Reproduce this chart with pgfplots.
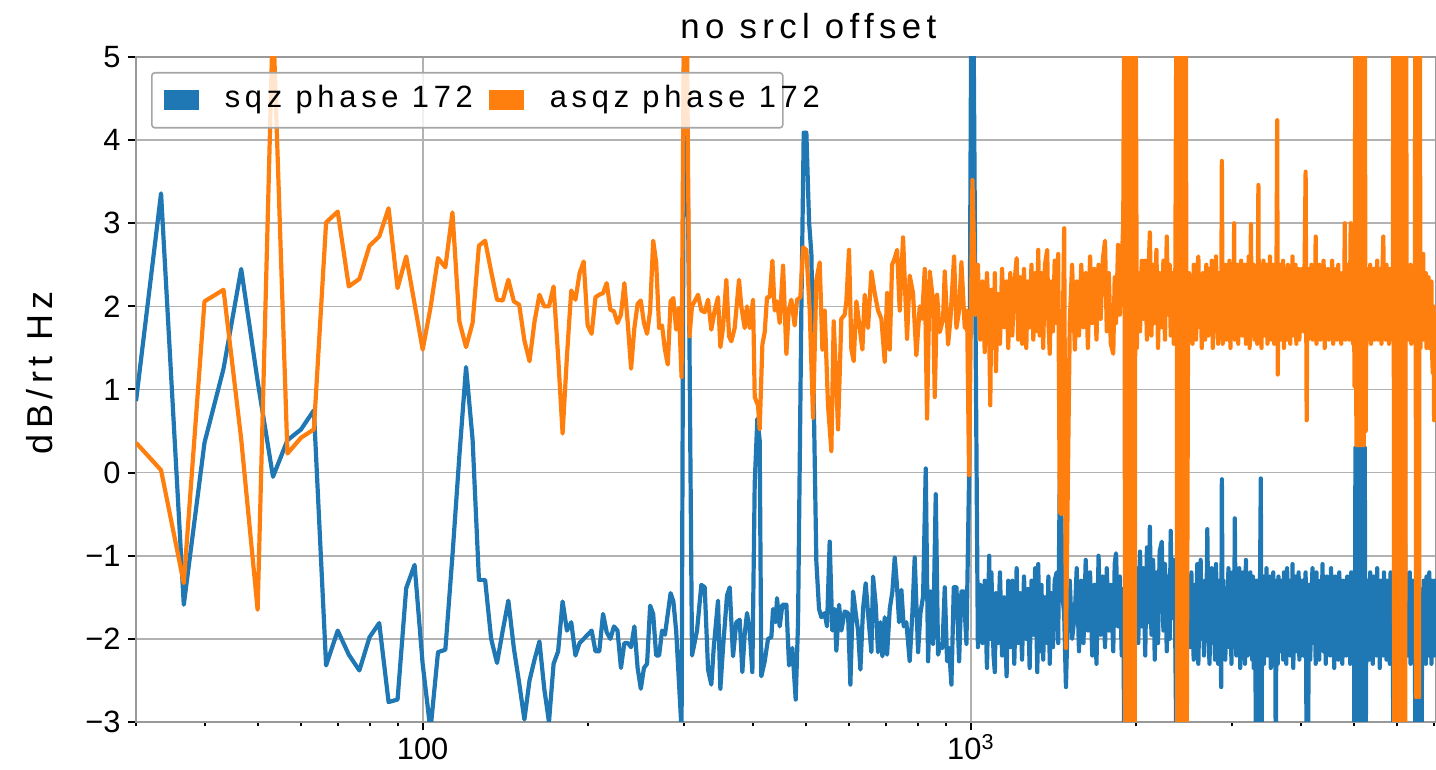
\documentclass[border=0pt]{standalone}
\usepackage{fontspec}
\setmainfont{Liberation Sans}
\newfontfamily\trk{Liberation Sans}[LetterSpace=15.5]
\usepackage{pgfplots}
\usepackage{pgfplotstable}
\pgfplotsset{compat=1.18}
\definecolor{sqzblue}{HTML}{1F77B4}
\definecolor{asqzorange}{HTML}{FF7F0E}

\pgfplotstableread{
f v
30.00 0.86
33.33 3.36
36.67 -1.59
40.00 0.36
43.33 1.25
46.67 2.45
50.00 1.1
53.33 -0.05
56.67 0.39
60.00 0.52
63.33 0.75
66.67 -2.32
70.00 -1.90
73.33 -2.19
76.67 -2.38
80.00 -1.98
83.33 -1.81
86.67 -2.76
90.00 -2.73
93.33 -1.39
96.67 -1.11
100.00 -2.3
103.33 -3.1
106.67 -2.16
110.00 -2.13
113.33 -1.0
116.67 0.2
120.00 1.27
123.33 0.4
126.67 -1.29
130.00 -1.29
133.33 -2.0
136.67 -2.29
140.00 -1.9
143.33 -1.54
146.67 -2.11
150.00 -2.53
153.33 -2.97
156.67 -2.5
160.00 -2.25
163.33 -2.03
166.67 -2.6
170.00 -3.0
173.33 -2.3
176.67 -2.15
180.00 -1.55
183.33 -1.9
186.67 -1.8
190.00 -2.2
193.33 -2.05
196.67 -2.0
200.00 -1.95
203.33 -1.9
206.67 -2.15
210.00 -2.15
213.33 -1.7
216.67 -1.92
220.00 -2.0
223.33 -1.85
226.67 -1.9
230.00 -2.35
233.33 -2.05
236.67 -2.05
240.00 -2.1
243.33 -1.85
246.67 -2.35
250.00 -2.6
253.33 -2.35
256.67 -2.3
260.00 -1.6
263.33 -1.7
266.67 -2.2
270.00 -2.2
273.33 -1.9
276.67 -1.95
280.00 -1.7
283.33 -1.45
286.67 -1.55
290.00 -1.9
293.33 -2.5
296.67 -3.1
300.00 5.8
303.33 4.5
306.67 1.6
310.00 -2.2
316.6 -1.9
322.4 -1.35
327.0 -1.38
331.6 -2.37
336.2 -2.55
339.6 -2.11
345.8 -1.54
349.2 -2.6
353.1 -2.11
359.1 -1.48
363.2 -1.38
368.3 -2.21
373.5 -1.8
378.8 -1.77
383.0 -2.4
386.8 -1.95
390.6 -1.69
395.0 -1.9
399.5 -2.4
403.4 -0.13
407.9 0.65
411.9 0.39
414.8 -2.45
420.7 -2.27
426.6 -2.0
432.6 -1.98
435.7 -1.64
440.6 -1.8
443.0 -1.51
448.0 -1.85
453.1 -1.59
460.8 -1.59
466.0 -2.32
472.5 -2.11
479.2 -2.73
483.9 -1.8
490.7 1.95
495.6 4.09
501.1 4.09
506.8 3.02
511.8 2.63
516.8 0.91
522.6 -1.07
528.5 -1.64
533.7 -1.74
541.2 -1.69
546.5 -1.85
552.7 -0.83
558.9 -1.9
564.4 -1.64
568.4 -2.14
574.9 -1.59
580.5 -1.9
588.7 -1.67
597.0 -1.69
602.9 -2.55
609.7 -1.43
616.6 -1.69
622.6 -1.9
628.8 -2.37
635.9 -1.64
643.0 -1.33
649.3 -1.69
658.5 -2.16
663.1 -1.25
670.6 -1.59
677.2 -2.16
684.0 -1.8
689.7 -2.21
696.5 -1.74
703.4 -2.19
711.3 -1.64
719.3 -1.43
726.4 -1.02
733.6 -1.38
739.7 -1.8
747.0 -1.41
754.3 -1.85
762.8 -1.8
773.6 -2.27
782.3 -1.69
790.0 -1.02
801.2 -2.16
809.1 -1.69
818.2 -1.49
827.4 0.05
835.5 -2.27
843.8 -1.43
853.3 -2.06
862.9 -0.26
871.4 -2.19
880.0 -2.06
887.4 -2.11
896.2 -1.38
905.0 -2.27
912.6 -2.11
921.6 -2.55
930.8 -1.38
941.2 -1.38
951.8 -2.27
961.2 -1.43
970.9 -1.43
981.6 -2.06
992.6 -0.03
1002.4 6.0
1010 6.0
1020 1.7
1030 -2.1
1040 -1.35
1050 -2.05
1060 -1.3
1070 -2.35
1080 -1.0
1085 -2.0
1090 -1.2
1100 -2.2
1106 -2.4
1111 -1.45
1120 -2.05
1130 -1.2
1140 -2.2
1150 -1.5
1162 -2.45
1170 -1.3
1180 -2.1
1190 -1.3
1200 -2.3
1212 -1.15
1220 -2.05
1230 -1.45
1240 -2.25
1250 -1.25
1262 -2.0
1270 -1.4
1280 -2.35
1290 -1.3
1300 -1.95
1310 -1.15
1322 -2.4
1327 -1.1
1335 -2.15
1345 -1.35
1355 -2.25
1365 -1.5
1378 -2.05
1385 -1.25
1393 -2.3
1402 -1.45
1412 -2.1
1422 -1.3
1434 -1.2
1443 -2.05
1453 0.0
1462 -0.44
1470 -1.5
1480 -1.7
1491 -2.58
1501 -1.8
1515 -1.3
1530 -2.0
1548 -1.69
1560 -1.15
1575 -2.15
1590 -1.3
1605 -2.05
1620 -1.05
1635 -1.9
1650 -1.2
1665 -2.2
1680 -1.35
1695 -2.3
1710 -1.0
1725 -1.95
1740 -1.25
1757 -2.1
1770 -1.15
1785 -1.9
1800 -1.35
1819 -2.15
1830 -1.1
1840 -0.97
1856 -1.85
1870 -1.25
1885 -2.2
1897 -1.4
1905 -3.5
1912 -1.6
1920 -3.5
1928 -1.8
1936 -2.6
1944 -1.5
1952 6.0
1958 -3.5
1966 -1.2
1974 -2.0
1982 -1.4
1990 -1.9
1998 -1.6
2008 -1.15
2020 -2.05
2035 -0.95
2050 -1.85
2065 -1.15
2080 -2.2
2095 -0.9
2110 -1.8
2121 -0.65
2135 -1.95
2150 -1.05
2165 -2.25
2180 -1.2
2195 -2.05
2210 -0.95
2230 -0.83
2245 -1.9
2260 -1.1
2277 -2.15
2290 -1.25
2305 -2.0
2315 -0.7
2330 -1.75
2345 -1.05
2360 -2.05
2372 -3.5
2380 -0.4
2388 -3.5
2396 -2.0
2404 -3.5
2412 -1.0
2420 -3.5
2428 -0.4
2436 -2.4
2444 -1.5
2452 0.5
2460 -2.0
2468 -1.6
2476 -1.3
2490 -1.8
2500 -1.5
2512 -2.1
2525 -1.2
2538 -1.85
2550 -2.25
2562 -1.35
2575 -1.9
2588 -1.1
2600 -2.3
2612 -1.6
2625 -1.05
2638 -2.0
2650 -1.45
2662 -2.2
2675 -1.3
2688 -1.85
2700 -0.68
2712 -1.95
2725 -2.3
2738 -1.4
2750 -1.15
2762 -2.05
2775 -1.6
2788 -2.25
2800 -1.1
2812 -1.75
2825 -2.3
2838 -1.3
2850 -1.85
2862 -2.58
2870 -0.08
2880 -2.0
2890 -1.3
2900 -1.75
2912 -2.25
2925 -1.4
2938 -1.95
2950 -1.15
2962 -2.1
2975 -1.5
2988 -2.3
3000 -1.2
3012 -1.8
3022 -2.1
3030 -0.55
3040 -1.7
3050 -2.2
3062 -1.3
3075 -1.95
3088 -1.15
3100 -2.35
3112 -1.55
3125 -2.0
3138 -1.2
3150 -1.9
3162 -2.3
3175 -1.05
3188 -1.75
3200 -2.2
3212 -1.35
3225 -1.9
3235 -1.2
3243 -2.05
3252 -1.4
3260 -2.25
3270 -1.25
3280 -2.35
3290 -1.5
3300 -1.9
3315 -3.5
3322 -1.3
3330 -2.1
3338 -1.5
3346 -3.5
3353 -1.6
3360 -2.0
3370 -1.2
3380 -0.07
3390 -3.5
3400 -1.5
3410 -2.0
3418 -1.25
3425 -2.3
3438 -1.4
3450 -1.9
3462 -1.15
3475 -2.2
3488 -1.5
3500 -1.95
3512 -1.25
3525 -2.35
3538 -1.45
3550 -1.85
3562 -1.2
3575 -2.2
3588 -1.5
3600 -3.5
3610 -1.3
3621 -1.9
3630 -2.3
3640 -1.25
3650 -1.8
3662 -2.15
3675 -1.3
3688 -2.0
3700 -1.4
3712 -2.25
3725 -1.2
3738 -1.9
3750 -1.5
3762 -2.3
3775 -1.15
3788 -1.75
3800 -2.1
3812 -1.3
3825 -2.2
3838 -1.45
3850 -1.95
3862 -1.1
3875 -2.35
3888 -1.5
3900 -1.9
3912 -1.25
3925 -2.15
3938 -1.4
3950 -2.0
3962 -1.2
3975 -2.25
3988 -1.55
4000 -1.85
4020 -1.3
4040 -2.2
4060 -1.5
4080 -1.2
4098 -3.5
4110 -1.6
4120 -3.5
4140 -1.35
4160 -2.25
4180 -1.5
4200 -1.15
4220 -2.05
4240 -1.4
4256 -2.3
4270 -1.2
4280 -1.9
4300 -1.45
4320 -2.25
4340 -1.3
4360 -1.95
4380 -1.1
4400 -2.15
4420 -1.5
4440 -2.3
4460 -1.25
4480 -1.85
4500 -1.4
4520 -2.2
4540 -1.15
4560 -1.95
4580 -1.5
4600 -2.35
4620 -1.25
4640 -1.8
4660 -1.4
4680 -2.25
4700 -1.2
4720 -1.9
4740 -1.5
4760 -2.3
4780 -1.3
4800 -2.0
4820 -1.35
4840 -2.2
4860 -1.25
4880 -1.85
4900 -1.5
4920 -2.3
4940 -1.2
4960 -1.95
4980 -1.4
5000 -2.1
5010 -3.5
5030 0.3
5050 -3.5
5070 0.3
5090 -3.5
5110 0.3
5130 -3.5
5150 0.3
5170 -3.5
5190 0.3
5210 -3.5
5230 0.3
5250 -3.5
5270 -1.3
5290 -2.1
5310 -1.5
5330 -2.25
5350 -1.2
5370 -1.9
5390 -1.4
5410 -2.3
5430 -1.25
5450 -1.85
5470 -1.5
5490 -2.2
5510 -1.15
5530 -1.9
5550 -1.45
5570 -2.35
5590 -1.3
5610 -1.95
5630 -1.5
5650 -2.2
5670 -1.2
5690 -1.85
5710 -1.4
5730 -2.25
5750 -1.3
5770 -1.9
5790 -1.5
5810 -2.3
5830 -1.2
5850 -1.95
5870 -1.45
5885 -2.1
5900 -3.5
5920 -1.6
5940 -3.5
5960 -1.8
5980 -3.5
6000 -1.5
6020 -3.5
6040 -0.5
6060 -3.5
6080 -1.7
6100 -3.5
6120 -1.4
6140 6.0
6160 -3.5
6180 6.0
6200 -1.8
6220 -1.4
6240 -1.3
6260 -2.2
6280 -1.5
6300 -1.9
6320 -1.2
6340 -2.3
6360 -1.45
6380 -1.85
6400 -1.3
6420 -2.2
6440 -1.55
6455 -1.9
6470 -3.5
6490 -1.7
6510 -3.5
6530 -1.5
6550 -3.5
6570 -1.8
6590 -3.5
6620 -1.5
6640 -3.5
6660 -1.4
6680 -2.2
6700 -1.3
6720 -1.9
6740 -1.5
6760 -2.3
6780 -1.25
6800 -1.95
6820 -1.4
6840 -2.2
6860 -1.2
6880 -1.85
6900 -1.5
6920 -2.3
6940 -1.3
6960 -1.9
6980 -1.45
7000 -2.2
7020 -1.3
7040 -1.8
7056 -1.5
}\sqz

\pgfplotstableread{
f v
30.00 0.36
33.33 0.03
36.67 -1.33
40.00 2.06
43.33 2.2
46.67 0.4
50.00 -1.65
53.33 5.5
56.67 0.23
60.00 0.42
63.33 0.52
66.67 3.01
70.00 3.14
73.33 2.24
76.67 2.33
80.00 2.73
83.33 2.84
86.67 3.18
90.00 2.22
93.33 2.6
96.67 2.03
100.00 1.48
103.33 1.98
106.67 2.58
110.00 2.47
113.33 3.13
116.67 1.82
120.00 1.51
123.33 1.8
126.67 2.73
130.00 2.79
133.33 2.42
136.67 2.08
140.00 2.07
143.33 2.32
146.67 2.06
150.00 2.02
153.33 1.59
156.67 1.34
160.00 1.82
163.33 2.14
166.67 2.0
170.00 2.0
173.33 2.24
176.67 1.4
180.00 0.47
183.33 1.4
186.67 2.19
190.00 2.08
193.33 2.4
196.67 2.54
200.00 1.77
203.33 1.67
206.67 2.11
210.00 2.14
213.33 2.16
216.67 2.28
220.00 1.96
223.33 1.94
226.67 1.8
230.00 1.9
233.33 2.28
236.67 1.8
240.00 1.25
243.33 1.74
246.67 2.03
250.00 2.07
253.33 1.8
256.67 1.67
260.00 1.95
263.33 2.79
266.67 2.53
270.00 1.74
273.33 1.77
276.67 1.48
280.00 1.3
283.33 2.06
286.67 2.1
290.00 1.72
293.33 1.98
296.67 1.15
300.00 6.0
303.33 5.5
306.67 1.64
310.00 2.0
318.0 2.14
322.4 1.95
327.0 1.93
331.6 2.08
336.2 1.72
341.0 1.95
345.8 2.11
349.2 1.51
353.1 1.74
358.1 2.32
362.2 1.64
365.7 1.58
370.9 1.74
377.7 2.32
381.4 2.0
386.8 1.74
390.6 2.0
395.0 1.74
400.6 2.08
403.4 0.91
409.0 0.81
411.9 0.52
416.6 1.54
420.7 1.69
424.8 2.11
429.6 2.11
434.5 2.55
438.7 1.95
443.0 2.06
448.0 1.8
454.4 2.49
460.8 1.43
465.3 1.95
470.5 2.08
477.1 1.77
481.9 2.08
488.7 2.11
494.2 2.71
501.1 2.68
508.2 1.95
515.4 0.66
522.6 2.32
530.0 2.53
536.0 1.48
541.2 1.95
548.8 0.81
556.6 0.26
562.1 1.82
568.4 1.07
572.4 0.52
580.5 1.85
588.7 1.9
592.8 2.06
599.5 2.68
605.4 1.48
611.4 1.34
618.3 2.06
627.0 1.74
634.1 1.48
640.3 2.14
649.3 1.74
658.5 2.42
667.8 2.16
677.2 1.95
686.8 1.85
696.5 1.33
703.4 2.16
711.3 1.48
718.3 2.5
726.4 2.58
733.6 2.68
741.8 1.95
752.2 2.83
765.0 1.61
773.6 2.37
784.5 2.16
795.6 1.41
806.8 2.0
814.7 1.85
823.9 2.45
832.0 0.65
841.4 2.42
853.3 2.06
859.3 0.91
867.7 2.14
877.5 1.69
889.9 1.85
896.2 2.42
908.8 1.54
917.8 1.85
932.0 2.6
941.2 1.74
951.8 1.95
961.2 2.53
974.7 1.74
984.3 1.95
992.6 -0.03
1006.7 3.52
1020 1.9
1030 2.5
1040 1.6
1050 2.3
1060 1.45
1070 2.4
1080 1.7
1085 0.81
1090 2.2
1100 1.5
1106 2.4
1111 1.22
1120 2.15
1130 1.55
1140 2.45
1150 1.75
1162 2.3
1170 1.5
1180 2.4
1190 1.65
1200 2.25
1212 2.58
1220 1.6
1230 2.35
1240 1.55
1250 2.45
1262 1.5
1270 2.3
1280 1.75
1290 2.5
1300 1.6
1310 2.4
1322 1.7
1327 2.68
1335 1.65
1345 2.4
1355 1.5
1365 2.5
1378 2.68
1385 1.8
1393 1.43
1402 2.3
1412 1.7
1422 2.55
1434 1.8
1443 2.63
1453 -0.47
1462 -0.5
1470 1.5
1480 2.94
1491 -2.11
1501 -0.44
1515 1.8
1530 2.5
1548 1.48
1560 2.3
1575 1.65
1590 2.5
1605 1.75
1620 2.4
1635 1.5
1650 2.6
1665 1.8
1680 2.45
1695 1.6
1710 2.5
1725 1.85
1740 2.55
1757 2.79
1770 1.7
1785 2.4
1800 1.55
1819 1.43
1830 2.35
1840 1.8
1856 2.74
1870 1.9
1885 2.5
1897 3.0
1905 6.0
1912 -3.5
1920 6.0
1928 -3.5
1936 6.0
1944 -3.5
1952 6.0
1958 -3.5
1966 6.0
1974 -3.5
1982 6.0
1990 -3.5
1998 6.0
2008 1.5
2020 2.4
2035 1.7
2050 2.55
2065 1.85
2080 2.55
2095 1.6
2110 2.45
2121 2.89
2135 1.65
2150 2.5
2165 1.8
2180 2.68
2195 1.5
2210 2.4
2230 1.75
2245 2.55
2260 1.6
2277 2.84
2290 1.9
2305 2.5
2315 1.65
2330 2.4
2345 1.55
2360 2.3
2372 6.0
2380 -3.5
2388 6.0
2396 -3.5
2404 6.0
2412 -3.5
2420 6.0
2428 -3.5
2436 6.0
2444 -3.5
2452 6.0
2460 -3.5
2468 6.0
2476 -3.5
2490 1.8
2500 2.4
2512 1.7
2525 2.25
2538 1.55
2550 2.5
2562 1.85
2575 1.6
2588 2.45
2600 2.6
2612 1.75
2625 2.2
2638 1.5
2650 2.4
2662 1.9
2675 1.6
2688 2.5
2700 2.3
2712 1.65
2725 2.45
2738 1.8
2750 2.55
2762 1.5
2775 2.2
2788 1.7
2800 2.6
2812 1.85
2825 1.55
2838 2.4
2850 2.1
2862 1.7
2870 3.75
2880 1.55
2890 2.35
2900 1.8
2912 2.5
2925 1.6
2938 2.3
2950 1.75
2962 2.55
2975 1.5
2988 2.2
3000 2.45
3012 1.7
3022 3.0
3030 1.6
3040 2.4
3050 1.85
3062 2.5
3075 1.55
3088 2.3
3100 1.75
3112 2.55
3125 1.65
3138 2.4
3150 1.9
3162 2.5
3175 1.55
3188 2.25
3200 1.7
3212 2.6
3225 1.5
3235 2.3
3243 2.99
3252 1.65
3260 2.35
3270 1.8
3280 2.5
3290 1.6
3300 2.3
3315 1.75
3322 2.45
3330 1.55
3338 2.2
3346 3.46
3353 1.7
3360 2.4
3370 1.85
3380 2.5
3390 1.5
3400 2.3
3410 1.8
3418 2.55
3425 1.65
3438 2.35
3450 1.75
3462 2.5
3475 1.55
3488 2.3
3500 1.9
3512 2.6
3525 1.6
3538 2.25
3550 1.8
3562 2.5
3575 1.55
3588 2.35
3600 1.75
3610 2.4
3621 4.24
3630 1.18
3640 2.3
3650 1.7
3662 2.5
3675 1.6
3688 2.35
3700 1.8
3712 2.55
3725 1.5
3738 2.3
3750 1.75
3762 2.45
3775 1.6
3788 2.5
3800 1.85
3812 2.3
3825 1.55
3838 2.45
3850 1.8
3862 2.6
3875 1.65
3888 2.3
3900 1.75
3912 2.5
3925 1.55
3938 2.35
3950 1.8
3962 2.45
3975 1.6
3988 2.3
4000 1.75
4020 2.45
4040 1.7
4060 2.35
4080 3.62
4098 0.63
4110 2.2
4120 1.6
4140 2.45
4160 1.75
4180 2.5
4200 1.6
4220 2.35
4240 1.8
4256 2.84
4270 1.55
4280 2.3
4300 1.75
4320 2.5
4340 1.6
4360 2.4
4380 1.85
4400 2.55
4420 1.5
4440 2.3
4460 1.7
4480 2.45
4500 1.6
4520 2.35
4540 1.8
4560 2.55
4580 1.55
4600 2.3
4620 1.75
4640 2.45
4660 1.6
4680 2.5
4700 1.8
4720 2.35
4740 1.55
4760 2.4
4780 1.7
4800 2.3
4810 3.0
4820 1.6
4840 2.45
4860 1.75
4880 2.5
4900 1.6
4920 2.35
4930 3.0
4940 1.7
4960 2.3
4980 1.55
5000 2.2
5010 1.04
5030 6.0
5050 0.33
5070 6.0
5090 0.33
5110 6.0
5130 0.33
5150 6.0
5170 0.33
5190 6.0
5210 0.33
5230 6.0
5250 0.5
5270 2.35
5290 1.6
5310 2.45
5330 1.75
5350 2.5
5370 1.55
5390 2.3
5410 1.8
5430 2.45
5450 1.6
5470 2.35
5490 1.7
5510 2.55
5530 1.6
5550 2.3
5570 1.85
5590 2.45
5610 1.55
5630 2.35
5655 2.84
5670 1.7
5690 2.4
5710 1.6
5730 2.5
5750 1.75
5770 2.3
5790 1.55
5810 2.45
5830 1.7
5850 2.35
5870 1.6
5885 2.3
5900 6.0
5920 -3.5
5940 6.0
5960 -3.5
5980 6.0
6000 -3.5
6020 6.0
6040 -3.5
6060 6.0
6080 -3.5
6100 6.0
6120 -3.5
6140 6.0
6160 -3.5
6180 6.0
6200 -3.5
6220 6.0
6240 1.75
6260 2.4
6280 1.6
6300 2.35
6320 1.8
6340 2.5
6360 1.55
6380 2.3
6400 1.7
6420 2.45
6440 1.6
6455 2.3
6470 6.0
6490 -2.7
6510 6.0
6530 -2.5
6550 6.0
6570 -2.7
6590 6.0
6610 1.5
6630 2.3
6650 1.7
6670 2.45
6689 2.63
6700 1.6
6720 2.3
6740 1.75
6760 2.4
6780 1.5
6800 2.2
6820 1.6
6840 2.35
6860 1.5
6880 2.2
6900 1.6
6920 2.3
6940 1.45
6960 1.2
6980 2.0
7000 0.63
7020 1.5
7040 1.9
7056 1.3
}\asqz

\begin{document}
\begin{tikzpicture}
\begin{axis}[
  name=ax,
  scale only axis, width=650pt, height=332.5pt,
  xmode=log, log basis x=10,
  xmin=30, xmax=7056, ymin=-3, ymax=5,
  xtick={100,1000}, xticklabels={100,10\textsuperscript{3}},
  minor xtick={30,40,50,60,70,80,90,200,300,400,500,600,700,800,900,2000,3000,4000,5000,6000,7000},
  ytick={-3,-2,-1,0,1,2,3,4,5},
  yticklabels={−3,−2,−1,0,1,2,3,4,5},
  grid=major,
  major grid style={draw=gray!60, line width=0.85pt},
  axis line style={draw=black!40, line width=1pt},
  tick style={black, line width=1pt},
  major tick length=4.2pt, minor tick length=2.2pt,
  tick align=outside, tick pos=left,
  ticklabel style={font=\fontsize{15.4}{18}\selectfont},
  xticklabel style={text height=11pt, text depth=0pt},
  every axis title/.style={at={([yshift=9pt]axis description cs:0.41846,1)}, anchor=base west, inner sep=0pt, font=\fontsize{17.4}{20}\selectfont},
  title={\trk no srcl offset},
  every axis y label/.style={at={([xshift=-42pt,yshift=133.5pt]axis description cs:0,0)}, rotate=90, anchor=base west, inner sep=0pt, font=\fontsize{18}{21}\selectfont},
  ylabel={\trk dB/rt Hz},
  legend columns=2,
  legend image code/.code={\fill[#1,draw=none,fill opacity=1,sharp corners] (0pt,-5pt) rectangle (17.5pt,5pt);},
  legend style={at={([xshift=7.5pt,yshift=-7.5pt]axis description cs:0,1)}, anchor=north west,
    draw=black!35, line width=0.8pt, fill=white, fill opacity=0.8, text opacity=1,
    rounded corners=1.5pt,
    inner xsep=6pt, inner ysep=6.5pt,
    font=\fontsize{15.4}{18}\selectfont,
    nodes={inner sep=0pt, text height=11pt, text depth=3.5pt},
    /tikz/every odd column/.append style={column sep=13pt},
    /tikz/every even column/.append style={column sep=10pt}},
  legend cell align=left,
]
\addplot[sqzblue, line width=2.1pt, line join=round] table[x=f,y=v]{\sqz};
\addlegendentry{\makebox[122pt][l]{\trk sqz phase 172}}
\addplot[asqzorange, line width=2.1pt, line join=round] table[x=f,y=v]{\asqz};
\addlegendentry{\makebox[110.5pt][l]{\trk asqz phase 172}}
\end{axis}
\pgfresetboundingbox
\path[use as bounding box] ([shift={(-68pt,-24pt)}]ax.south west) rectangle ([shift={(0pt,28.5pt)}]ax.north east);
\end{tikzpicture}
\end{document}
